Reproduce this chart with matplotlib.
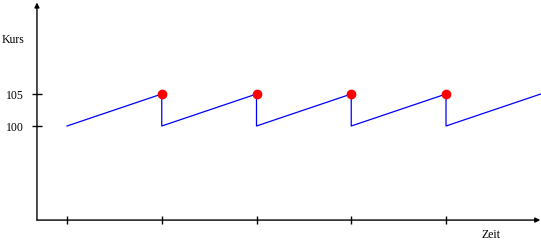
import matplotlib
matplotlib.use("Agg")
import matplotlib.pyplot as plt

# sawtooth price path
zeit = [0, 1, 1, 2, 2, 3, 3, 4, 4, 5]
kurs = [100, 105, 100, 105, 100, 105, 100, 105, 100, 105]
peak_zeit = [1, 2, 3, 4]
peak_kurs = [105, 105, 105, 105]
x_ticks = [0, 1, 2, 3, 4]
y_ticks = [100, 105]
y_labels = ["100", "105"]

plt.rcParams['font.family'] = ['Liberation Serif', 'DejaVu Serif']

fig = plt.figure(figsize=(5.41, 2.41), dpi=100)
ax = fig.add_axes([0, 0, 1, 1])
ax.set_xlim(-0.7071, 5.0026)
ax.set_ylim(82.03, 119.69)

x0, y0 = -0.317, 85.3

# axes with arrows
arr = dict(arrowstyle='-|>', color='black', lw=1.0, mutation_scale=7, shrinkA=0, shrinkB=0)
ax.annotate('', xy=(4.995, y0), xytext=(x0, y0), arrowprops=arr, annotation_clip=False)
ax.annotate('', xy=(x0, 119.3), xytext=(x0, y0), arrowprops=arr, annotation_clip=False)

for s in ax.spines.values():
    s.set_visible(False)
ax.spines['left'].set_position(('data', x0))
ax.spines['bottom'].set_position(('data', y0))

ax.set_xticks(x_ticks)
ax.set_xticklabels([])
ax.set_yticks(y_ticks)
ax.set_yticklabels(y_labels)
ax.tick_params(axis='x', direction='inout', length=6, width=1.0, color='black')
ax.tick_params(axis='y', direction='inout', length=7, width=1.0, color='black',
               labelsize=8.5, pad=6)

ax.plot(zeit, kurs, color='#0000ff', lw=0.9, zorder=3)
ax.plot(peak_zeit, peak_kurs, 'o', color='#ff0000', ms=6, zorder=4)

ax.text(-0.57, 113.4, "Kurs", fontsize=8.5, ha='center', va='center')
ax.text(4.475, 82.97, "Zeit", fontsize=8.5, ha='center', va='center')

fig.savefig("out.png", dpi=100)
